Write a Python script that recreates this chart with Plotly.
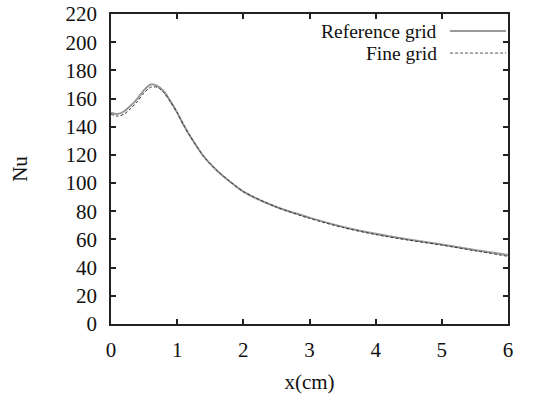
import plotly.graph_objects as go

x_cm = [0.0, 0.1, 0.2, 0.3, 0.4, 0.5, 0.6, 0.7, 0.8, 0.9, 1.0, 1.1, 1.2, 1.4, 1.6, 1.8,
        2.0, 2.5, 3.0, 3.5, 4.0, 4.5, 5.0, 5.5, 6.0]
nu_reference = [150, 149, 151, 155, 160, 166, 170, 169, 165, 158, 150, 141, 133, 119, 109, 101,
                94, 83, 75.5, 69, 64, 60, 56.5, 52.5, 49]
nu_fine = [149, 147.5, 149, 153, 158, 164, 168, 168, 164, 157.5, 150, 141, 133, 119, 109, 101,
           94, 83, 75, 68.5, 63.5, 59.5, 56, 52, 48]

x_ticks = [0, 1, 2, 3, 4, 5, 6]
y_ticks = list(range(0, 221, 20))
legend_names = ["Reference grid", "Fine grid"]

FONT = "Liberation Serif, Times New Roman, serif"
FS = 21
TXT = "#111111"

fig = go.Figure()
fig.add_trace(go.Scatter(x=x_cm, y=nu_reference, mode="lines", name=legend_names[0],
                         line=dict(color="#999999", width=2, shape="spline", smoothing=0.8),
                         showlegend=False))
fig.add_trace(go.Scatter(x=x_cm, y=nu_fine, mode="lines", name=legend_names[1],
                         line=dict(color="#333333", width=1, dash="3px,2px", shape="spline", smoothing=0.8),
                         showlegend=False))

# gnuplot-style key: text right-aligned, sample line to the right
key_y = [0.945, 0.874]
key_styles = [dict(color="#999999", width=2), dict(color="#555555", width=1, dash="3px,2px")]
for name, ky, st in zip(legend_names, key_y, key_styles):
    fig.add_annotation(x=0.816, y=ky, xref="paper", yref="paper", text=name, showarrow=False,
                       xanchor="right", yanchor="middle", xshift=3, borderpad=0,
                       font=dict(family=FONT, size=19.5, color=TXT))
    fig.add_shape(type="line", xref="paper", yref="paper", x0=0.854, x1=0.995, y0=ky, y1=ky, line=st)

axis_common = dict(showline=True, linecolor="#222", linewidth=1.5, mirror="allticks",
                   ticks="inside", ticklen=5, tickwidth=1.5, tickcolor="#222",
                   showgrid=False, zeroline=False, automargin=False,
                   tickfont=dict(family=FONT, size=FS, color=TXT))

fig.update_xaxes(range=[0, 6], tickvals=x_ticks, ticklabelstandoff=6,
                 title=dict(text="x(cm)", font=dict(family=FONT, size=FS, color=TXT), standoff=14),
                 **axis_common)
fig.update_yaxes(range=[0, 220], tickvals=y_ticks, ticklabelstandoff=8,
                 title=dict(text="Nu", font=dict(family=FONT, size=FS, color=TXT), standoff=32),
                 **axis_common)

fig.update_layout(width=552, height=394, margin=dict(l=111, r=44, t=14, b=70),
                  plot_bgcolor="white", paper_bgcolor="white",
                  font=dict(family=FONT, size=FS, color=TXT))

fig.write_html("out.html")
